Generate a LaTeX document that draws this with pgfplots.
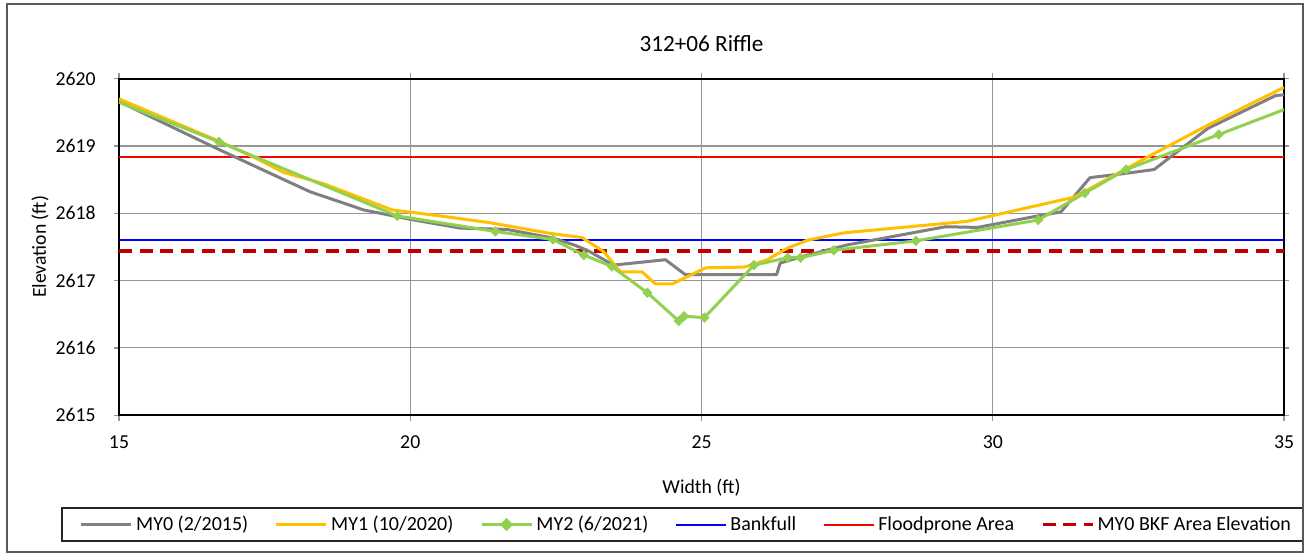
\documentclass[border=0pt]{standalone}
\usepackage{pgfplots}
\usepackage{pgfplotstable}
\pgfplotsset{compat=1.18}
\usepackage{fontspec}
\setmainfont{Carlito}

\definecolor{cMYzero}{RGB}{128,128,128}
\definecolor{cMYone}{RGB}{255,192,0}
\definecolor{cMYtwo}{RGB}{146,208,80}
\definecolor{cBank}{RGB}{0,0,255}
\definecolor{cFlood}{RGB}{255,0,0}
\definecolor{cBKF}{RGB}{192,0,0}
\definecolor{gridgray}{RGB}{150,150,150}

\pgfplotstableread{
x y
15.00 2619.66
16.71 2618.95
17.48 2618.64
18.28 2618.32
19.20 2618.05
20.00 2617.91
20.86 2617.78
21.66 2617.76
22.46 2617.63
22.81 2617.53
23.04 2617.45
23.49 2617.23
24.38 2617.31
24.72 2617.09
26.29 2617.09
26.35 2617.26
26.70 2617.35
27.50 2617.53
29.19 2617.80
29.74 2617.79
30.77 2617.96
31.17 2618.02
31.67 2618.53
32.26 2618.59
32.77 2618.65
33.69 2619.26
34.86 2619.75
35.00 2619.76
}\myzero

\pgfplotstableread{
x y
15.00 2619.70
16.72 2619.07
17.37 2618.81
17.82 2618.61
18.51 2618.44
19.69 2618.05
20.52 2617.96
21.37 2617.86
22.41 2617.70
22.95 2617.64
23.32 2617.43
23.61 2617.13
23.98 2617.13
24.21 2616.95
24.50 2616.95
25.07 2617.19
25.73 2617.20
26.13 2617.31
26.47 2617.48
26.82 2617.60
27.45 2617.71
29.56 2617.88
31.40 2618.24
32.71 2618.86
33.74 2619.33
34.86 2619.81
35.00 2619.87
}\myone

\pgfplotstableread{
x y
15.00 2619.65
16.72 2619.06
19.78 2617.96
21.46 2617.73
22.45 2617.61
22.98 2617.38
23.46 2617.21
24.07 2616.82
24.61 2616.40
24.70 2616.47
25.05 2616.45
25.90 2617.23
26.48 2617.34
26.70 2617.34
27.27 2617.45
28.68 2617.59
30.78 2617.90
31.58 2618.30
32.29 2618.65
33.88 2619.17
35.00 2619.54
}\mytwo

\pgfplotstableread{
x y
15 2617.61
35 2617.61
}\bankfull

\pgfplotstableread{
x y
15 2618.83
35 2618.83
}\floodprone

\pgfplotstableread{
x y
15 2617.44
35 2617.44
}\bkfarea

\begin{document}
\begin{tikzpicture}
\begin{axis}[
  at={(0,0)}, anchor=south west,
  scale only axis, width=873.75pt, height=252.4pt,
  xmin=15, xmax=35, ymin=2615, ymax=2620,
  xtick={15,20,25,30,35}, ytick={2615,2616,2617,2618,2619,2620},
  scaled ticks=false,
  /pgf/number format/.cd, fixed, precision=0, 1000 sep={}, assume math mode=true,
  /pgfplots/.cd,
  grid=major,
  major grid style={line width=0.9pt, color=gridgray},
  axis line style={line width=1.5pt, black},
  tick align=outside, major tick length=4pt,
  tick style={gridgray, line width=1pt},
  ticklabel style={font=\fontsize{14.8}{17}\selectfont},
  xticklabel style={yshift=-8pt},
  yticklabel style={xshift=-10pt},
  title={312+06 Riffle},
  title style={at={(axis description cs:0.5,1.0792)}, anchor=center, font=\fontsize{17.4}{20}\selectfont},
  xlabel={Width (ft)},
  xlabel style={at={(axis description cs:0.5,-0.2165)}, anchor=center, font=\fontsize{14.8}{17}\selectfont},
  ylabel={Elevation (ft)},
  ylabel style={at={(axis description cs:-0.0678,0.5)}, anchor=center, rotate=0, font=\fontsize{14.8}{17}\selectfont},
  legend columns=6,
  legend style={at={(axis description cs:0.4876,-0.3249)}, anchor=center, draw=none, fill=none,
    font=\fontsize{15}{17}\selectfont,
    /tikz/every even column/.append style={column sep=17.5pt},
    nodes={inner xsep=2.5pt, inner ysep=1pt}},
  legend image code/.code={\draw[mark repeat=2,mark phase=2,#1] plot coordinates {(0pt,0pt) (18.75pt,0pt) (37.5pt,0pt)};},
]
% reference lines
\addplot[cBank, line width=1.5pt, forget plot] table {\bankfull};
\addplot[cFlood, line width=1.5pt, forget plot] table {\floodprone};
\addplot[cBKF, line width=2.5pt, dash pattern=on 9.75pt off 5.75pt, forget plot] table {\bkfarea};
% surveys
\addplot[cMYzero, line width=2.25pt, line join=round, forget plot] table {\myzero};
\addplot[cMYone, line width=2.25pt, line join=round, forget plot] table {\myone};
\addplot[cMYtwo, line width=2.25pt, line join=round, forget plot] table {\mytwo};
\addplot[cMYtwo, only marks, mark=diamond*, mark size=3.6pt, mark options={xscale=1.3, fill=cMYtwo, draw=cMYtwo},
  skip coords between index={0}{1}, skip coords between index={20}{21}, forget plot] table {\mytwo};
% legend
\addlegendimage{cMYzero, line width=2.25pt}
\addlegendentry{MY0 (2/2015)}
\addlegendimage{cMYone, line width=2.25pt}
\addlegendentry{MY1 (10/2020)}
\addlegendimage{cMYtwo, line width=2.25pt, mark=diamond*, mark size=3.4pt, mark options={xscale=1.3, fill=cMYtwo, draw=cMYtwo}}
\addlegendentry{MY2 (6/2021)}
\addlegendimage{cBank, line width=1.5pt}
\addlegendentry{Bankfull}
\addlegendimage{cFlood, line width=1.5pt}
\addlegendentry{Floodprone Area}
\addlegendimage{cBKF, line width=2.5pt, dash pattern=on 9.75pt off 5.75pt}
\addlegendentry{MY0 BKF Area Elevation}
\end{axis}
\draw[black!85, line width=1pt] (-42.75pt,-69.6pt) rectangle (888pt,-94.35pt);
\draw[black!65, line width=0.8pt] (-84pt,-102.6pt) rectangle (888pt,308.4pt);
\pgfresetboundingbox
\path (-89.25pt,-103.35pt) rectangle (888.75pt,311.4pt);
\end{tikzpicture}
\end{document}
